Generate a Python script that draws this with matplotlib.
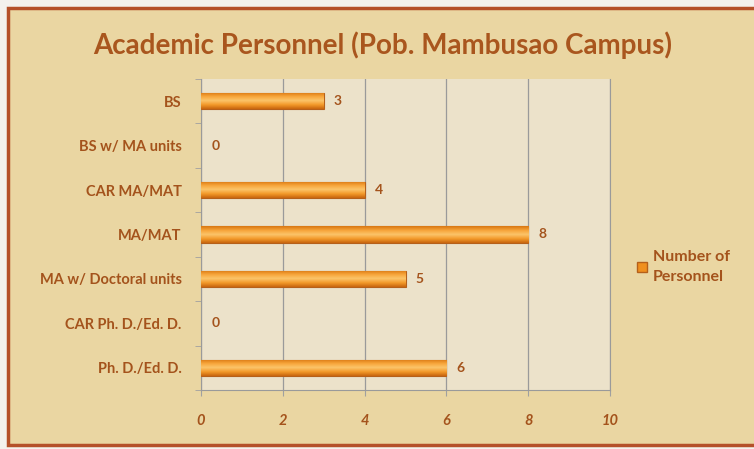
import numpy as np
import matplotlib.pyplot as plt
from matplotlib.patches import Rectangle
from matplotlib.lines import Line2D
from matplotlib.colors import LinearSegmentedColormap

categories = ["Ph. D./Ed. D.", "CAR Ph. D./Ed. D.", "MA w/ Doctoral units", "MA/MAT",
              "CAR MA/MAT", "BS w/ MA units", "BS"]
personnel = [6, 0, 5, 8, 4, 0, 3]
x_ticks = [0, 2, 4, 6, 8, 10]

brown = "#a4531c"
title_brown = "#a9561e"
plt.rcParams['font.family'] = ['Lato', 'DejaVu Sans']

fig = plt.figure(figsize=(7.54, 4.49), dpi=100)
fig.patch.set_facecolor("#f4f2ee")

# parchment frame
frame = Rectangle((8 / 754, 4 / 449), 760 / 754, 437 / 449, transform=fig.transFigure,
                  facecolor="#ead6a2", edgecolor="#b5512a", linewidth=2.5, zorder=-5)
fig.patches.append(frame)

ax = fig.add_axes([201 / 754, 59 / 449, 409 / 754, 311 / 449])
ax.set_facecolor("#ece2ca")

y = np.arange(len(categories))
bars = ax.barh(y, personnel, height=0.37, color="#f0901e", edgecolor="#b5601a",
               linewidth=0.8, zorder=3)

# vertical gradient inside each bar
grad = np.linspace(0, 1, 64).reshape(-1, 1)
cmap = LinearSegmentedColormap.from_list("bar", ["#c8660f", "#f39a2a", "#fbc46a", "#f7a53a", "#d97712"])
for b in bars:
    if b.get_width() == 0:
        b.set_visible(False)
        continue
    x0, y0 = b.get_x(), b.get_y()
    im = ax.imshow(grad, extent=[x0, x0 + b.get_width(), y0, y0 + b.get_height()],
                   aspect="auto", cmap=cmap, zorder=3.5, origin="lower")
    im.set_clip_path(b)

for yi, v in zip(y, personnel):
    ax.text(v + 0.25, yi, str(v), va="center", ha="left", color=brown,
            fontsize=10, fontweight="bold", zorder=5)

ax.set_xlim(0, 10)
ax.set_ylim(-0.5, len(categories) - 0.5)
ax.set_xticks(x_ticks)
ax.set_xticklabels([str(t) for t in x_ticks], color=brown, fontsize=10.5,
                   fontweight="bold", fontstyle="italic")
ax.set_yticks(y)
ax.set_yticklabels(categories, color=brown, fontsize=10.5, fontweight="bold")
ax.set_yticks(np.arange(-0.5, len(categories), 1), minor=True)
ax.tick_params(axis="y", which="major", length=0, pad=14)
ax.tick_params(axis="y", which="minor", length=4, color="#a0a0a0", direction="out")
ax.tick_params(axis="x", length=4, color="#a0a0a0", pad=13)
ax.grid(axis="x", color="#9a9a9a", linewidth=0.9, zorder=1)
ax.spines["top"].set_visible(False)
for s in ["right", "left", "bottom"]:
    ax.spines[s].set_color("#9a9a9a")

fig.text(0.508, 0.9, "Academic Personnel (Pob. Mambusao Campus)", ha="center", va="center",
         color=title_brown, fontsize=20, fontweight="bold")

handle = Line2D([], [], marker="s", linestyle="none", markersize=7,
                markerfacecolor="#f0901e", markeredgecolor="#b5601a")
leg = fig.legend([handle], ["Number of\nPersonnel"], loc="center left",
                 bbox_to_anchor=(626 / 754, 0.405), frameon=False, handletextpad=0.1,
                 handlelength=1.2, prop={"weight": "bold", "size": 11.5},
                 borderaxespad=0)
for t in leg.get_texts():
    t.set_color(brown)
    t.set_linespacing(1.5)

fig.savefig("out.png", dpi=100)
